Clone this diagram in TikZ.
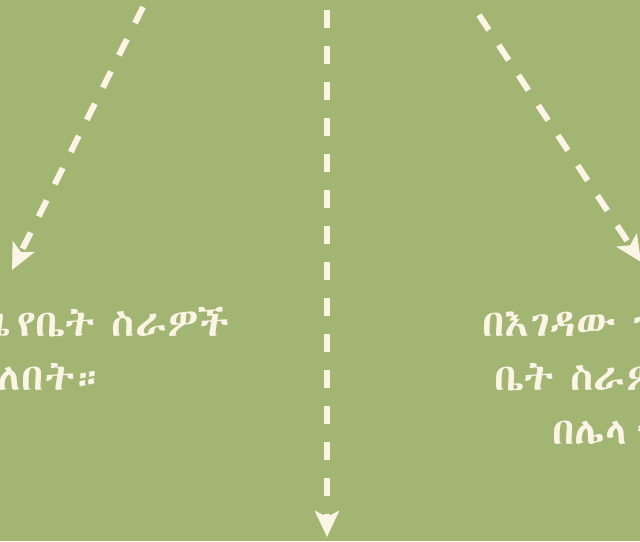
\documentclass[tikz,border=0pt]{standalone}
\usepackage{fontspec}
\usetikzlibrary{arrows.meta}
\IfFontExistsTF{Abyssinica SIL}{\newfontfamily\ethfont[Script=Ethiopic,FakeStretch=1.15,WordSpace=0.85]{Abyssinica SIL}}{%
 \IfFontExistsTF{Noto Sans Ethiopic}{\newfontfamily\ethfont[Script=Ethiopic,FakeStretch=1.15,WordSpace=0.85]{Noto Sans Ethiopic}}{%
  \IfFontExistsTF{FreeSerif}{\newfontfamily\ethfont[FakeStretch=1.15,WordSpace=0.85]{FreeSerif}}{%
   \newfontfamily\ethfont{DejaVu Sans}}}}
\definecolor{bg}{HTML}{A3B573}
\definecolor{cream}{HTML}{FCF5E6}
\tikzset{
  flow/.style={draw=cream, line width=6pt, dash pattern=on 18pt off 18pt,
    -{Stealth[length=26pt, width=24pt, inset=6pt]}},
  txt/.style={text=cream, inner sep=0pt, font=\ethfont\fontsize{37}{44}\selectfont}
}
\begin{document}
\begin{tikzpicture}[x=1pt,y=-1pt]
\fill[bg] (0,0) rectangle (640,541);
\useasboundingbox (0,0) rectangle (640,541);
\coordinate (lsrc) at (143,7);
\coordinate (ltip) at (12,270);
\coordinate (msrc) at (327,10);
\coordinate (mtip) at (327,537);
\coordinate (rsrc) at (479,15);
\coordinate (rtip) at (641,262);
\draw[flow] (lsrc) -- (ltip);
\draw[flow] (msrc) -- (mtip);
\draw[flow] (rsrc) -- (rtip);
\node[txt, anchor=base east] (l1) at (230,336) {ጊዜ\hspace{6pt}የቤት ስራዎች};
\node[txt, anchor=base east] (l2) at (106,390) {አለበት።};
\node[txt, anchor=base west] (r1) at (482,336) {በእገዳው ጊዜ};
\node[txt, anchor=base west] (r2) at (494,390) {ቤት ስራዎች};
\node[txt, anchor=base west] (r3) at (552,444) {በሌላ\hspace{9pt}ጊዜ};
\end{tikzpicture}
\end{document}
